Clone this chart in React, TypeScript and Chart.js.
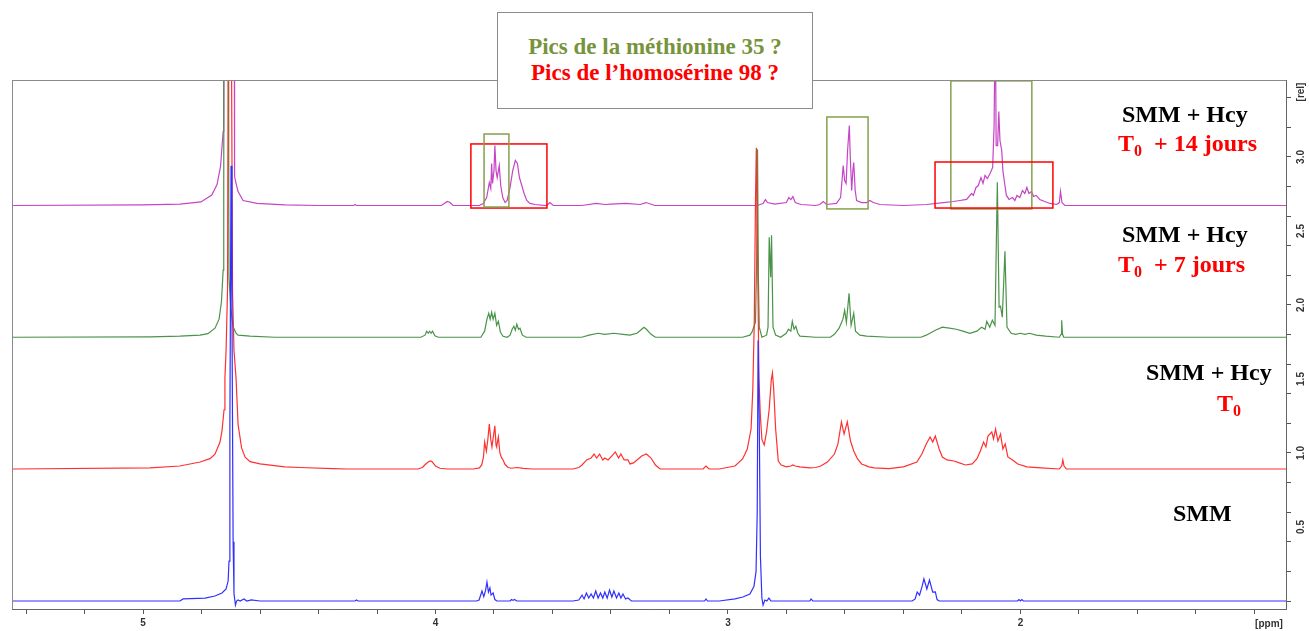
import React, { useEffect, useRef } from "react";
import { Chart, registerables } from "chart.js";

Chart.register(...registerables);

// ---- axes ----
const PPM_MIN = 1.092;
const PPM_MAX = 5.448;
const REL_MIN = -0.054;
const REL_MAX = 3.52;
const X_TICKS = [5.4, 5.2, 5.0, 4.8, 4.6, 4.4, 4.2, 4.0, 3.8, 3.6, 3.4, 3.2, 3.0, 2.8, 2.6, 2.4, 2.2, 2.0, 1.8, 1.6, 1.4, 1.2];
const X_LABELS = [5, 4, 3, 2];
const Y_TICKS = [0.0, 0.1, 0.2, 0.3, 0.4, 0.5, 0.6, 0.7, 0.8, 0.9, 1.0, 1.1, 1.2, 1.3, 1.4, 1.5, 1.6, 1.7, 1.8, 1.9, 2.0, 2.1, 2.2, 2.3, 2.4, 2.5, 2.6, 2.7, 2.8, 2.9, 3.0, 3.1, 3.2, 3.3, 3.4, 3.5];
const Y_LABELS = [0.5, 1.0, 1.5, 2.0, 2.5, 3.0];

// ---- spectra: [ppm, intensity above own baseline (rel)] ----
const smm: [number, number][] = [
  [5.448, 0], [4.874, 0], [4.863, 0.014], [4.788, 0.02], [4.754, 0.034], [4.730, 0.054], [4.716, 0.081], [4.709, 0.135],
  [4.706, 0.27], [4.703, 1.2], [4.699, 2.94], [4.696, 2.0], [4.692, 0.4], [4.689, 0.05], [4.684, -0.027], [4.680, 0.0],
  [4.675, 0.007], [4.668, 0.0], [4.655, 0.014], [4.645, 0.0], [4.630, 0.007], [4.600, 0],
  [4.275, 0], [4.27, 0.007], [4.265, 0],
  [3.86, 0], [3.851, 0.007], [3.841, 0.068], [3.835, 0.03], [3.829, 0.07], [3.824, 0.128], [3.819, 0.06], [3.814, 0.088],
  [3.810, 0.04], [3.803, 0.054], [3.797, 0.01], [3.790, 0],
  [3.745, 0], [3.740, 0.01], [3.735, 0.004], [3.730, 0.01], [3.722, 0],
  [3.53, 0], [3.51, 0.007], [3.499, 0.04], [3.492, 0.014], [3.484, 0.054], [3.476, 0.02], [3.468, 0.047], [3.460, 0.02],
  [3.452, 0.068], [3.444, 0.02], [3.436, 0.054], [3.428, 0.02], [3.421, 0.061], [3.413, 0.02], [3.405, 0.074], [3.397, 0.027],
  [3.390, 0.068], [3.381, 0.02], [3.373, 0.054], [3.366, 0.02], [3.359, 0.047], [3.350, 0.014], [3.342, 0.02], [3.33, 0],
  [3.08, 0], [3.075, 0.014], [3.07, 0],
  [3.03, 0], [2.976, 0.014], [2.949, 0.027], [2.925, 0.047], [2.911, 0.1], [2.904, 0.2], [2.900, 0.6], [2.897, 1.76],
  [2.893, 1.2], [2.889, 0.3], [2.884, 0.02], [2.880, -0.027], [2.874, 0.007], [2.867, 0], [2.860, 0.02], [2.853, 0], [2.84, 0],
  [2.72, 0], [2.716, 0.014], [2.71, 0],
  [2.37, 0], [2.36, 0.014], [2.353, 0.061], [2.345, 0.04], [2.336, 0.1], [2.330, 0.149], [2.320, 0.081], [2.311, 0.142],
  [2.300, 0.06], [2.291, 0.061], [2.285, 0.01], [2.278, 0],
  [2.01, 0], [2.005, 0.01], [2.0, 0], [1.995, 0.01], [1.99, 0],
  [1.092, 0],
];

const smmHcyT0: [number, number][] = [
  [5.448, 0], [4.976, 0.007], [4.874, 0.02], [4.805, 0.047], [4.771, 0.07], [4.754, 0.1], [4.737, 0.18], [4.730, 0.257],
  [4.723, 0.4], [4.720, 0.615], [4.716, 0.8], [4.711, 1.216], [4.708, 3.5], [4.699, 3.5], [4.694, 1.2], [4.689, 0.8],
  [4.682, 0.615], [4.675, 0.3], [4.663, 0.142], [4.651, 0.08], [4.634, 0.05], [4.600, 0.034], [4.515, 0.014], [4.463, 0.01],
  [4.35, 0.003], [4.30, 0],
  [4.06, 0], [4.045, 0.01], [4.035, 0.03], [4.025, 0.047], [4.018, 0.054], [4.012, 0.05], [4.0, 0.02], [3.985, 0.005], [3.96, 0],
  [3.87, 0], [3.85, 0.007], [3.842, 0.027], [3.836, 0.08], [3.832, 0.182], [3.826, 0.12], [3.821, 0.2], [3.816, 0.304],
  [3.811, 0.2], [3.807, 0.149], [3.802, 0.22], [3.797, 0.291], [3.793, 0.16], [3.791, 0.149], [3.785, 0.216], [3.780, 0.11],
  [3.775, 0.08], [3.769, 0.061], [3.762, 0.03], [3.752, 0.01], [3.74, 0.005], [3.72, 0.01], [3.70, 0.004], [3.67, 0],
  [3.53, 0], [3.51, 0.01], [3.499, 0.027], [3.483, 0.061], [3.468, 0.074], [3.458, 0.101], [3.449, 0.074], [3.439, 0.101],
  [3.428, 0.061], [3.421, 0.074], [3.410, 0.061], [3.397, 0.088], [3.385, 0.115], [3.374, 0.074], [3.366, 0.101],
  [3.355, 0.061], [3.342, 0.061], [3.335, 0.034], [3.323, 0.041], [3.311, 0.061], [3.295, 0.088], [3.279, 0.101],
  [3.263, 0.074], [3.248, 0.027], [3.232, 0],
  [3.085, 0], [3.075, 0.02], [3.065, 0],
  [3.03, 0], [2.976, 0.02], [2.950, 0.068], [2.934, 0.135], [2.921, 0.27], [2.915, 0.54], [2.910, 1.0], [2.906, 1.8],
  [2.903, 2.17], [2.899, 1.5], [2.894, 0.6], [2.889, 0.35], [2.884, 0.2], [2.876, 0.162], [2.868, 0.25], [2.859, 0.405],
  [2.852, 0.6], [2.848, 0.649], [2.844, 0.55], [2.837, 0.27], [2.828, 0.054], [2.818, 0.027], [2.80, 0.014], [2.785, 0.02],
  [2.778, 0.027], [2.770, 0.02], [2.754, 0.014], [2.72, 0.007], [2.70, 0.01],
  [2.683, 0.02], [2.660, 0.047], [2.636, 0.101], [2.624, 0.169], [2.612, 0.318], [2.603, 0.236], [2.592, 0.318],
  [2.581, 0.189], [2.570, 0.122], [2.557, 0.068], [2.543, 0.034], [2.518, 0.014], [2.50, 0.007], [2.45, 0.003], [2.40, 0.014],
  [2.354, 0.047], [2.337, 0.101], [2.322, 0.169], [2.309, 0.216], [2.300, 0.182], [2.291, 0.223], [2.278, 0.135],
  [2.267, 0.081], [2.251, 0.061], [2.227, 0.054], [2.209, 0.041], [2.188, 0.027], [2.165, 0.034], [2.149, 0.068],
  [2.137, 0.122], [2.126, 0.182], [2.118, 0.149], [2.111, 0.223], [2.098, 0.25], [2.092, 0.203], [2.085, 0.27],
  [2.077, 0.189], [2.068, 0.236], [2.060, 0.135], [2.052, 0.169], [2.043, 0.081], [2.027, 0.061], [2.009, 0.034],
  [1.978, 0.014], [1.930, 0.007], [1.867, 0], [1.859, 0.02], [1.855, 0.061], [1.851, 0.02], [1.843, 0], [1.092, 0],
];

const smmHcyD7: [number, number][] = [
  [5.448, 0], [4.976, 0.003], [4.874, 0.007], [4.805, 0.014], [4.778, 0.024], [4.754, 0.061], [4.740, 0.122], [4.732, 0.236],
  [4.726, 0.453], [4.724, 1.0], [4.723, 3.0], [4.716, 3.0], [4.709, 3.0], [4.707, 1.0], [4.706, 0.405], [4.700, 0.2],
  [4.692, 0.071], [4.682, 0.027], [4.675, 0.014], [4.634, 0.007], [4.55, 0],
  [4.05, 0], [4.036, 0.014], [4.030, 0.041], [4.025, 0.027], [4.020, 0.041], [4.015, 0.027], [4.010, 0.041], [4.002, 0.01], [3.99, 0],
  [3.845, 0], [3.832, 0.041], [3.824, 0.122], [3.818, 0.162], [3.813, 0.122], [3.808, 0.169], [3.803, 0.122], [3.797, 0.162],
  [3.791, 0.081], [3.785, 0.108], [3.778, 0.034], [3.769, 0.007], [3.755, 0],
  [3.745, 0.014], [3.738, 0.054], [3.732, 0.074], [3.727, 0.047], [3.722, 0.088], [3.716, 0.054], [3.711, 0.061], [3.703, 0.014], [3.69, 0],
  [3.50, 0], [3.475, 0.014], [3.444, 0.027], [3.421, 0.02], [3.390, 0.027], [3.359, 0.02], [3.335, 0.014], [3.311, 0.027],
  [3.295, 0.054], [3.287, 0.068], [3.279, 0.054], [3.263, 0.02], [3.248, 0],
  [2.95, 0], [2.925, 0.014], [2.918, 0.034], [2.906, 0.101], [2.902, 0.5], [2.899, 1.27], [2.896, 0.4], [2.893, 0.068], [2.884, 0],
  [2.868, 0.014], [2.863, 0.068], [2.859, 0.676], [2.854, 0.405], [2.851, 0.689], [2.846, 0.068], [2.837, 0.014], [2.82, 0],
  [2.801, 0.027], [2.793, 0.054], [2.785, 0.041], [2.780, 0.108], [2.774, 0.054], [2.768, 0.074], [2.761, 0.027], [2.754, 0.007], [2.70, 0],
  [2.65, 0], [2.636, 0.02], [2.620, 0.061], [2.607, 0.122], [2.601, 0.182], [2.595, 0.101], [2.586, 0.297], [2.579, 0.081],
  [2.570, 0.162], [2.564, 0.041], [2.549, 0.014], [2.526, 0.007], [2.45, 0],
  [2.34, 0], [2.322, 0.014], [2.291, 0.047], [2.267, 0.068], [2.243, 0.061], [2.219, 0.054], [2.197, 0.041], [2.173, 0.027],
  [2.149, 0.041], [2.133, 0.068], [2.121, 0.054], [2.115, 0.108], [2.105, 0.068], [2.096, 0.115], [2.087, 0.081],
  [2.079, 1.047], [2.073, 0.203], [2.068, 0.209], [2.062, 0.135], [2.053, 0.581], [2.046, 0.068], [2.032, 0.027],
  [2.016, 0.02], [2.000, 0.027], [1.985, 0.02], [1.969, 0.027], [1.946, 0.014], [1.914, 0.007], [1.867, 0], [1.861, 0.02],
  [1.859, 0.115], [1.856, 0.02], [1.852, 0], [1.092, 0],
];

const smmHcyD14: [number, number][] = [
  [5.448, 0], [5.0, 0.005], [4.874, 0.01], [4.802, 0.024], [4.765, 0.071], [4.747, 0.142], [4.735, 0.264], [4.726, 0.5],
  [4.724, 1.2], [4.716, 1.5], [4.700, 1.5], [4.688, 1.2], [4.687, 0.196], [4.682, 0.15], [4.675, 0.095], [4.658, 0.034],
  [4.610, 0.014], [4.515, 0.005], [4.40, 0],
  [4.28, 0], [4.275, 0.007], [4.27, 0],
  [3.98, 0], [3.96, 0.027], [3.95, 0.02], [3.94, 0],
  [3.85, 0], [3.837, 0.014], [3.825, 0.054], [3.816, 0.155], [3.811, 0.115], [3.808, 0.284], [3.805, 0.149], [3.800, 0.236],
  [3.797, 0.405], [3.793, 0.236], [3.789, 0.189], [3.782, 0.27], [3.777, 0.135], [3.770, 0.054], [3.762, 0.02],
  [3.755, 0.034], [3.745, 0.122], [3.736, 0.236], [3.727, 0.304], [3.720, 0.284], [3.713, 0.189], [3.705, 0.135],
  [3.697, 0.081], [3.688, 0.034], [3.677, 0.014], [3.660, 0.007], [3.62, 0], [3.609, 0.02], [3.597, 0],
  [3.50, 0], [3.45, 0.014], [3.42, 0.007], [3.40, 0.01], [3.35, 0.014], [3.30, 0.007], [3.28, 0.02], [3.25, 0],
  [2.90, 0], [2.88, 0.014], [2.872, 0.04], [2.865, 0.02], [2.84, 0.01], [2.80, 0.02], [2.792, 0.054], [2.785, 0.04],
  [2.778, 0.06], [2.77, 0.02], [2.75, 0.007], [2.70, 0],
  [2.686, 0.007], [2.674, 0.027], [2.663, 0.007], [2.629, 0.014], [2.615, 0.054], [2.610, 0.169], [2.606, 0.27],
  [2.601, 0.169], [2.596, 0.149], [2.591, 0.372], [2.585, 0.541], [2.582, 0.338], [2.577, 0.101], [2.573, 0.236],
  [2.570, 0.291], [2.565, 0.101], [2.560, 0.034], [2.543, 0.02], [2.526, 0.02], [2.515, 0.034], [2.503, 0.02], [2.480, 0.007], [2.40, 0],
  [2.321, 0.007], [2.264, 0.02], [2.230, 0.027], [2.207, 0.034], [2.184, 0.041], [2.167, 0.081], [2.161, 0.068],
  [2.152, 0.122], [2.144, 0.135], [2.135, 0.189], [2.128, 0.149], [2.121, 0.203], [2.113, 0.182], [2.104, 0.216],
  [2.095, 0.257], [2.090, 0.541], [2.086, 1.35], [2.083, 0.405], [2.078, 0.405], [2.074, 0.635], [2.070, 0.439],
  [2.064, 0.372], [2.060, 0.236], [2.053, 0.135], [2.048, 0.068], [2.039, 0.041], [2.027, 0.054], [2.019, 0.034],
  [2.012, 0.068], [2.002, 0.054], [1.993, 0.101], [1.985, 0.081], [1.978, 0.122], [1.971, 0.081], [1.962, 0.095],
  [1.955, 0.061], [1.946, 0.068], [1.934, 0.041], [1.917, 0.027], [1.899, 0.014], [1.876, 0.007], [1.867, 0.02],
  [1.863, 0.095], [1.858, 0.02], [1.848, 0], [1.092, 0],
];

// stacking offsets (rel) of each trace, bottom to top
const SERIES_NAMES = ["SMM", "SMM + Hcy T0", "SMM + Hcy T0 + 7 jours", "SMM + Hcy T0 + 14 jours"];
const SERIES_DATA = [smm, smmHcyT0, smmHcyD7, smmHcyD14];
const SERIES_OFFSETS = [0, 0.892, 1.782, 2.672];
const SERIES_COLORS = ["#3030FF", "#FF3030", "#4A934A", "#C644C6"];

// highlight boxes: [ppmLeft, ppmRight, relTop, relBottom, color]
const BOXES: [number, number, number, number, string][] = [
  [3.879, 3.619, 3.088, 2.655, "#FF0000"],
  [3.834, 3.749, 3.155, 2.662, "#86A04E"],
  [2.662, 2.521, 3.270, 2.649, "#86A04E"],
  [2.238, 1.961, 3.514, 2.649, "#86A04E"],
  [2.292, 1.889, 2.966, 2.655, "#FF0000"],
];

const SERIF = '"Liberation Serif", "Times New Roman", serif';
const SANS = '"Liberation Sans", Arial, sans-serif';

const overlayPlugin = {
  id: "nmrOverlay",
  afterDatasetsDraw(chart: any) {
    const { ctx, chartArea } = chart;
    const xs = chart.scales.x;
    const ys = chart.scales.y;
    ctx.save();
    // highlight boxes
    ctx.lineWidth = 1.5;
    for (const [p1, p2, r1, r2, c] of BOXES) {
      const x1 = xs.getPixelForValue(p1);
      const x2 = xs.getPixelForValue(p2);
      const y1 = ys.getPixelForValue(r1);
      const y2 = ys.getPixelForValue(r2);
      ctx.strokeStyle = c;
      ctx.strokeRect(x1, y1, x2 - x1, y2 - y1);
    }
    // frame
    ctx.lineWidth = 1;
    ctx.strokeStyle = "#8a8a8a";
    ctx.strokeRect(
      Math.round(chartArea.left) + 0.5,
      Math.round(chartArea.top) + 0.5,
      Math.round(chartArea.right - chartArea.left),
      Math.round(chartArea.bottom - chartArea.top)
    );
    ctx.strokeStyle = "#666";
    ctx.beginPath();
    ctx.moveTo(chartArea.left, Math.round(chartArea.bottom) + 0.5);
    ctx.lineTo(chartArea.right + 1, Math.round(chartArea.bottom) + 0.5);
    ctx.moveTo(Math.round(chartArea.right) + 0.5, chartArea.top);
    ctx.lineTo(Math.round(chartArea.right) + 0.5, chartArea.bottom + 1);
    ctx.stroke();
    // y labels (rotated)
    ctx.fillStyle = "#333";
    ctx.font = `bold 10px ${SANS}`;
    ctx.textAlign = "center";
    ctx.textBaseline = "middle";
    const lx = chartArea.right + 15;
    for (const v of Y_LABELS) {
      const y = ys.getPixelForValue(v);
      ctx.save();
      ctx.translate(lx, y);
      ctx.rotate(-Math.PI / 2);
      ctx.fillText(v.toFixed(1), 0, 0);
      ctx.restore();
    }
    ctx.save();
    ctx.translate(lx, chartArea.top + 12);
    ctx.rotate(-Math.PI / 2);
    ctx.fillText("[rel]", 0, 0);
    ctx.restore();
    ctx.fillText("[ppm]", chartArea.right - 17, chartArea.bottom + 15);
    ctx.restore();
  },
};

export default function App() {
  const canvasRef = useRef<HTMLCanvasElement | null>(null);

  useEffect(() => {
    document.body.style.margin = "0";
    const canvas = canvasRef.current;
    if (!canvas) return;
    const chart = new Chart(canvas, {
      type: "scatter",
      data: {
        datasets: SERIES_DATA.map((series, i) => ({
          label: SERIES_NAMES[i],
          data: series.map(([p, v]) => ({ x: p, y: v + SERIES_OFFSETS[i] })),
          showLine: true,
          borderColor: SERIES_COLORS[i],
          backgroundColor: SERIES_COLORS[i],
          borderWidth: 1.2,
          pointRadius: 0,
          tension: 0,
        })),
      },
      options: {
        responsive: false,
        animation: false,
        devicePixelRatio: 1,
        events: [],
        layout: { padding: { left: 12, top: 80, right: 0, bottom: 0 } },
        plugins: { legend: { display: false }, tooltip: { enabled: false }, title: { display: false } },
        scales: {
          x: {
            type: "linear",
            reverse: true,
            min: PPM_MIN,
            max: PPM_MAX,
            position: "bottom",
            afterFit: (s: any) => {
              s.height = 22;
            },
            afterBuildTicks: (s: any) => {
              s.ticks = X_TICKS.map((value) => ({ value }));
            },
            ticks: {
              autoSkip: false,
              maxRotation: 0,
              minRotation: 0,
              padding: 3,
              color: "#333",
              font: { family: SANS, size: 10, weight: "bold" },
              callback: (v: any) => {
                const n = Number(v);
                const m = X_LABELS.find((l) => Math.abs(l - n) < 1e-6);
                return m === undefined ? "" : String(m);
              },
            },
            grid: { drawOnChartArea: false, drawTicks: true, tickLength: 5, tickColor: "#555", tickWidth: 1 },
            border: { display: false },
          },
          y: {
            type: "linear",
            position: "right",
            min: REL_MIN,
            max: REL_MAX,
            afterFit: (s: any) => {
              s.width = 23;
            },
            afterBuildTicks: (s: any) => {
              s.ticks = Y_TICKS.map((value) => ({ value }));
            },
            ticks: { display: true, callback: () => "", padding: 0 },
            grid: { drawOnChartArea: false, drawTicks: true, tickLength: 5, tickColor: "#555", tickWidth: 1 },
            border: { display: false },
          },
        },
      } as any,
      plugins: [overlayPlugin],
    });
    return () => chart.destroy();
  }, []);

  const lbl = (color: string): React.CSSProperties => ({
    position: "absolute",
    fontFamily: SERIF,
    fontWeight: "bold",
    fontSize: 24,
    lineHeight: "24px",
    color,
    whiteSpace: "nowrap",
  });
  const sub: React.CSSProperties = { fontSize: 16, position: "relative", top: 5 };

  return (
    <div style={{ position: "relative", width: 1309, height: 631, overflow: "hidden", background: "#fff" }}>
      <canvas ref={canvasRef} width={1309} height={631} style={{ position: "absolute", left: 0, top: 0, width: 1309, height: 631 }} />
      <div
        style={{
          position: "absolute",
          left: 497,
          top: 12,
          width: 316,
          height: 97,
          boxSizing: "border-box",
          border: "1px solid #8c8c8c",
          background: "#fff",
          textAlign: "center",
          fontFamily: SERIF,
          fontWeight: "bold",
          fontSize: 23,
          lineHeight: "26px",
          paddingTop: 21,
        }}
      >
        <div style={{ color: "#77933C" }}>Pics de la méthionine 35 ?</div>
        <div style={{ color: "#FF0000" }}>Pics de l’homosérine 98 ?</div>
      </div>
      <div style={{ ...lbl("#000"), left: 1122, top: 102 }}>SMM + Hcy</div>
      <div style={{ ...lbl("#FF0000"), left: 1118, top: 131 }}>
        T<span style={sub}>0</span>&nbsp; + 14 jours
      </div>
      <div style={{ ...lbl("#000"), left: 1122, top: 222 }}>SMM + Hcy</div>
      <div style={{ ...lbl("#FF0000"), left: 1118, top: 252 }}>
        T<span style={sub}>0</span>&nbsp; + 7 jours
      </div>
      <div style={{ ...lbl("#000"), left: 1146, top: 360 }}>SMM + Hcy</div>
      <div style={{ ...lbl("#FF0000"), left: 1217, top: 391 }}>
        T<span style={sub}>0</span>
      </div>
      <div style={{ ...lbl("#000"), left: 1173, top: 501 }}>SMM</div>
    </div>
  );
}
